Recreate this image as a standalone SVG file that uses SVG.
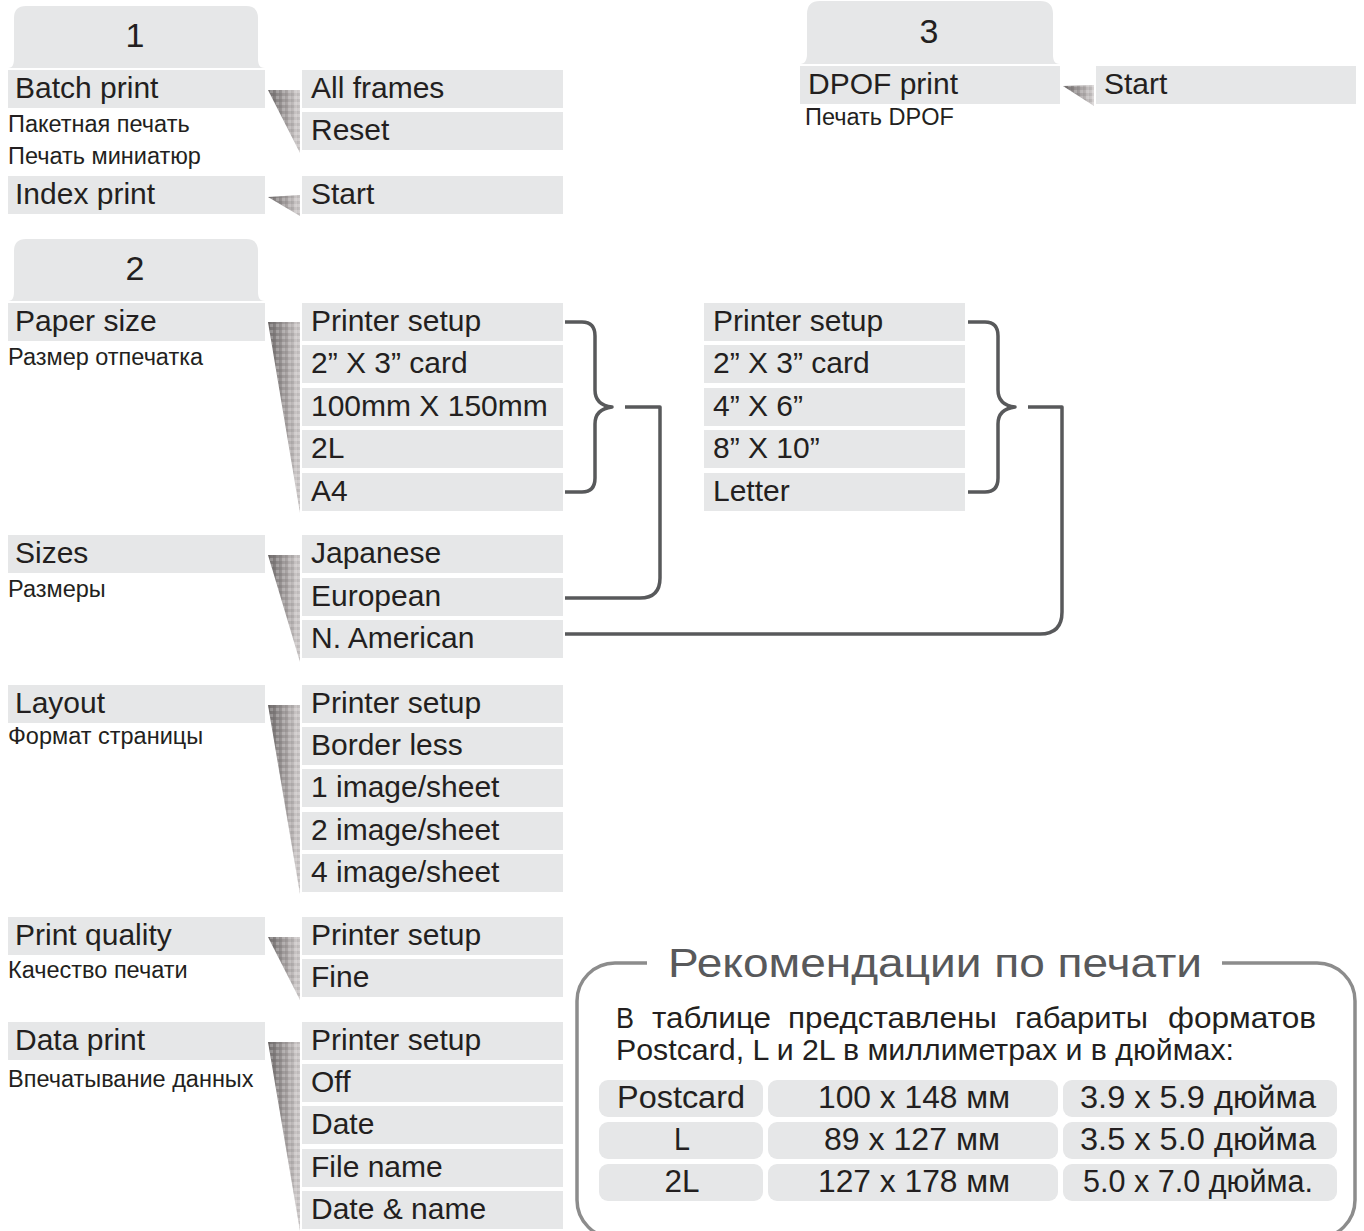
<svg xmlns="http://www.w3.org/2000/svg" width="1364" height="1231" viewBox="0 0 1364 1231">
<defs>
<style>
.bar{fill:#e6e7e8}
.tab{fill:#e6e7e8}
.t{font-family:"Liberation Sans",Arial,sans-serif;font-size:30px;fill:#231f20}
.n{font-family:"Liberation Sans",Arial,sans-serif;font-size:34px;fill:#231f20;text-anchor:middle}
.s{font-family:"Liberation Sans",Arial,sans-serif;font-size:23.5px;fill:#231f20}
.w{fill:url(#wg)}
.wt{fill:url(#chk)}
.con{fill:none;stroke:#58595b;stroke-width:3.5;stroke-linejoin:round}
.box{fill:none;stroke:#8c8c8c;stroke-width:3.5}
.cell{fill:#e6e7e8}
.ti{font-family:"Liberation Sans",Arial,sans-serif;font-size:40px;fill:#58595b}
.b{font-family:"Liberation Sans",Arial,sans-serif;font-size:29px;fill:#231f20}
.c{font-family:"Liberation Sans",Arial,sans-serif;font-size:31px;fill:#231f20;text-anchor:middle}
</style>
<linearGradient id="wg" x1="0" y1="0" x2="1" y2="0">
<stop offset="0" stop-color="#6f6b6b"/>
<stop offset="0.6" stop-color="#aaa5a5"/>
<stop offset="1" stop-color="#d6d2d2"/>
</linearGradient>
<pattern id="chk" width="6" height="6" patternUnits="userSpaceOnUse">
<rect width="3" height="3" fill="#ffffff" fill-opacity="0.22"/>
<rect x="3" y="3" width="3" height="3" fill="#000000" fill-opacity="0.08"/>
</pattern>
</defs>
<rect width="1364" height="1231" fill="#ffffff"/>

<g id="tab1">
<path class="tab" d="M8 68 C13 68 14 64 14 58 V18 Q14 6 26 6 H246 Q258 6 258 18 V58 C258 64 259 68 265 68 Z"/>
<text class="n" x="135" y="47">1</text>
</g>
<g id="tab2">
<path class="tab" d="M8 301 C13 301 14 297 14 291 V251 Q14 239 26 239 H246 Q258 239 258 251 V291 C258 297 259 301 265 301 Z"/>
<text class="n" x="135" y="280">2</text>
</g>
<g id="tab3">
<path class="tab" d="M800 64 C805 64 807 60 807 54 V14 Q807 1 820 1 H1040 Q1053 1 1053 14 V54 C1053 60 1054 64 1060 64 Z"/>
<text class="n" x="929" y="43">3</text>
</g>

<g id="batch-print">
<rect class="bar" x="8" y="70" width="257" height="38"/>
<text class="t" x="15" y="98">Batch print</text>
<text class="s" x="8" y="132">Пакетная печать</text>
</g>
<g id="index-print">
<text class="s" x="8" y="164">Печать миниатюр</text>
<rect class="bar" x="8" y="176" width="257" height="38"/>
<text class="t" x="15" y="204">Index print</text>
</g>
<g id="batch-options">
<polygon class="w" points="268,90 300,90 300,153"/>
<polygon class="wt" points="268,90 300,90 300,153"/>
<rect class="bar" x="302" y="70" width="261" height="38"/>
<text class="t" x="311" y="98">All frames</text>
<rect class="bar" x="302" y="112" width="261" height="38"/>
<text class="t" x="311" y="140">Reset</text>
</g>
<g id="index-options">
<polygon class="w" points="268,197 300,195 300,216"/>
<polygon class="wt" points="268,197 300,195 300,216"/>
<rect class="bar" x="302" y="176" width="261" height="38"/>
<text class="t" x="311" y="204">Start</text>
</g>

<g id="dpof-print">
<rect class="bar" x="800" y="66" width="260" height="38"/>
<text class="t" x="808" y="94">DPOF print</text>
<text class="s" x="805" y="125">Печать DPOF</text>
</g>
<g id="dpof-options">
<polygon class="w" points="1063,86 1094,85 1094,106"/>
<polygon class="wt" points="1063,86 1094,85 1094,106"/>
<rect class="bar" x="1096" y="66" width="260" height="38"/>
<text class="t" x="1104" y="94">Start</text>
</g>

<g id="paper-size">
<rect class="bar" x="8" y="303" width="257" height="38"/>
<text class="t" x="15" y="331">Paper size</text>
<text class="s" x="8" y="365">Размер отпечатка</text>
</g>
<g id="paper-size-options">
<polygon class="w" points="268,322 300,322 300,513"/>
<polygon class="wt" points="268,322 300,322 300,513"/>
<rect class="bar" x="302" y="303" width="261" height="38"/>
<text class="t" x="311" y="331">Printer setup</text>
<rect class="bar" x="302" y="345" width="261" height="38"/>
<text class="t" x="311" y="373">2” X 3” card</text>
<rect class="bar" x="302" y="388" width="261" height="38"/>
<text class="t" x="311" y="416">100mm X 150mm</text>
<rect class="bar" x="302" y="430" width="261" height="38"/>
<text class="t" x="311" y="458">2L</text>
<rect class="bar" x="302" y="473" width="261" height="38"/>
<text class="t" x="311" y="501">A4</text>
</g>
<g id="american-sizes">
<rect class="bar" x="704" y="303" width="261" height="38"/>
<text class="t" x="713" y="331">Printer setup</text>
<rect class="bar" x="704" y="345" width="261" height="38"/>
<text class="t" x="713" y="373">2” X 3” card</text>
<rect class="bar" x="704" y="388" width="261" height="38"/>
<text class="t" x="713" y="416">4” X 6”</text>
<rect class="bar" x="704" y="430" width="261" height="38"/>
<text class="t" x="713" y="458">8” X 10”</text>
<rect class="bar" x="704" y="473" width="261" height="38"/>
<text class="t" x="713" y="501">Letter</text>
</g>

<g id="sizes">
<rect class="bar" x="8" y="535" width="257" height="38"/>
<text class="t" x="15" y="563">Sizes</text>
<text class="s" x="8" y="597">Размеры</text>
</g>
<g id="sizes-options">
<polygon class="w" points="268,555 300,555 300,662"/>
<polygon class="wt" points="268,555 300,555 300,662"/>
<rect class="bar" x="302" y="535" width="261" height="38"/>
<text class="t" x="311" y="563">Japanese</text>
<rect class="bar" x="302" y="578" width="261" height="38"/>
<text class="t" x="311" y="606">European</text>
<rect class="bar" x="302" y="620" width="261" height="38"/>
<text class="t" x="311" y="648">N. American</text>
</g>

<g id="layout">
<rect class="bar" x="8" y="685" width="257" height="38"/>
<text class="t" x="15" y="713">Layout</text>
<text class="s" x="8" y="744">Формат страницы</text>
</g>
<g id="layout-options">
<polygon class="w" points="268,705 300,705 300,894"/>
<polygon class="wt" points="268,705 300,705 300,894"/>
<rect class="bar" x="302" y="685" width="261" height="38"/>
<text class="t" x="311" y="713">Printer setup</text>
<rect class="bar" x="302" y="727" width="261" height="38"/>
<text class="t" x="311" y="755">Border less</text>
<rect class="bar" x="302" y="769" width="261" height="38"/>
<text class="t" x="311" y="797">1 image/sheet</text>
<rect class="bar" x="302" y="812" width="261" height="38"/>
<text class="t" x="311" y="840">2 image/sheet</text>
<rect class="bar" x="302" y="854" width="261" height="38"/>
<text class="t" x="311" y="882">4 image/sheet</text>
</g>

<g id="print-quality">
<rect class="bar" x="8" y="917" width="257" height="38"/>
<text class="t" x="15" y="945">Print quality</text>
<text class="s" x="8" y="978">Качество печати</text>
</g>
<g id="print-quality-options">
<polygon class="w" points="268,937 300,937 300,1000"/>
<polygon class="wt" points="268,937 300,937 300,1000"/>
<rect class="bar" x="302" y="917" width="261" height="38"/>
<text class="t" x="311" y="945">Printer setup</text>
<rect class="bar" x="302" y="959" width="261" height="38"/>
<text class="t" x="311" y="987">Fine</text>
</g>

<g id="data-print">
<rect class="bar" x="8" y="1022" width="257" height="38"/>
<text class="t" x="15" y="1050">Data print</text>
<text class="s" x="8" y="1087">Впечатывание данных</text>
</g>
<g id="data-print-options">
<polygon class="w" points="268,1042 300,1042 300,1231"/>
<polygon class="wt" points="268,1042 300,1042 300,1231"/>
<rect class="bar" x="302" y="1022" width="261" height="38"/>
<text class="t" x="311" y="1050">Printer setup</text>
<rect class="bar" x="302" y="1064" width="261" height="38"/>
<text class="t" x="311" y="1092">Off</text>
<rect class="bar" x="302" y="1106" width="261" height="38"/>
<text class="t" x="311" y="1134">Date</text>
<rect class="bar" x="302" y="1149" width="261" height="38"/>
<text class="t" x="311" y="1177">File name</text>
<rect class="bar" x="302" y="1191" width="261" height="38"/>
<text class="t" x="311" y="1219">Date &amp; name</text>
</g>

<g id="connectors">
<path class="con" d="M565 322 H582 Q595 322 595 336 V390 Q595 405 612 407 Q595 409 595 424 V478 Q595 492 582 492 H565"/>
<path class="con" d="M625 407 H660 V578 Q660 598 640 598 H565"/>
<path class="con" d="M968 322 H985 Q998 322 998 336 V390 Q998 405 1015 407 Q998 409 998 424 V478 Q998 492 985 492 H968"/>
<path class="con" d="M1028 407 H1062 V612 Q1062 634 1040 634 H565"/>
</g>

<g id="recommendations">
<path class="box" d="M647 963 H615 A38 38 0 0 0 577 1001 V1200 A38 38 0 0 0 615 1238 H1317 A38 38 0 0 0 1355 1200 V1001 A38 38 0 0 0 1317 963 H1222"/>
<text class="ti" x="668" y="977" textLength="534" lengthAdjust="spacingAndGlyphs">Рекомендации по печати</text>
<text class="b" x="616" y="1028" textLength="18" lengthAdjust="spacingAndGlyphs">В</text>
<text class="b" x="652" y="1028" textLength="119" lengthAdjust="spacingAndGlyphs">таблице</text>
<text class="b" x="788" y="1028" textLength="209" lengthAdjust="spacingAndGlyphs">представлены</text>
<text class="b" x="1015" y="1028" textLength="133" lengthAdjust="spacingAndGlyphs">габариты</text>
<text class="b" x="1168" y="1028" textLength="148" lengthAdjust="spacingAndGlyphs">форматов</text>
<text class="b" x="616" y="1060" textLength="618" lengthAdjust="spacingAndGlyphs">Postcard, L и 2L в миллиметрах и в дюймах:</text>
<rect class="cell" x="599" y="1080" width="164" height="37" rx="9"/>
<rect class="cell" x="768" y="1080" width="290" height="37" rx="9"/>
<rect class="cell" x="1063" y="1080" width="274" height="37" rx="9"/>
<rect class="cell" x="599" y="1122" width="164" height="37" rx="9"/>
<rect class="cell" x="768" y="1122" width="290" height="37" rx="9"/>
<rect class="cell" x="1063" y="1122" width="274" height="37" rx="9"/>
<rect class="cell" x="599" y="1164" width="164" height="37" rx="9"/>
<rect class="cell" x="768" y="1164" width="290" height="37" rx="9"/>
<rect class="cell" x="1063" y="1164" width="274" height="37" rx="9"/>
<text class="c" x="681" y="1108" textLength="128" lengthAdjust="spacingAndGlyphs">Postcard</text>
<text class="c" x="914" y="1108" textLength="192" lengthAdjust="spacingAndGlyphs">100 x 148 мм</text>
<text class="c" x="1198" y="1108" textLength="236" lengthAdjust="spacingAndGlyphs">3.9 x 5.9 дюйма</text>
<text class="c" x="682" y="1150" textLength="16" lengthAdjust="spacingAndGlyphs">L</text>
<text class="c" x="912" y="1150" textLength="176" lengthAdjust="spacingAndGlyphs">89 x 127 мм</text>
<text class="c" x="1198" y="1150" textLength="236" lengthAdjust="spacingAndGlyphs">3.5 x 5.0 дюйма</text>
<text class="c" x="682" y="1192" textLength="35" lengthAdjust="spacingAndGlyphs">2L</text>
<text class="c" x="914" y="1192" textLength="192" lengthAdjust="spacingAndGlyphs">127 x 178 мм</text>
<text class="c" x="1198" y="1192" textLength="230" lengthAdjust="spacingAndGlyphs">5.0 x 7.0 дюйма.</text>
</g>
</svg>
